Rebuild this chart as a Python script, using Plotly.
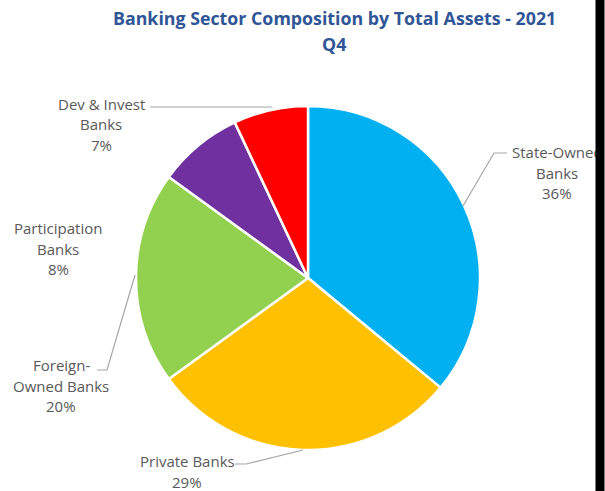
import plotly.graph_objects as go

# Sector shares of total banking assets, 2021 Q4 (percent)
sectors = ["State-Owned Banks", "Private Banks", "Foreign-Owned Banks",
           "Participation Banks", "Dev & Invest Banks"]
shares = [36, 29, 20, 8, 7]
slice_colors = ["#00B0F0", "#FFC000", "#92D050", "#7030A0", "#FF0000"]

# How each category name is broken across lines in its outside label
label_lines = {
    "State-Owned Banks": ["State-Owned", "Banks"],
    "Private Banks": ["Private Banks"],
    "Foreign-Owned Banks": ["Foreign-", "Owned Banks"],
    "Participation Banks": ["Participation", "Banks"],
    "Dev & Invest Banks": ["Dev & Invest", "Banks"],
}

W, H = 605, 491
CX, CY, R = 308, 278, 172  # pie centre and radius in pixels


def px(x, y):
    """Pixel position -> paper coordinates."""
    return x / W, 1 - y / H


# Label block placement (centre x, first line y) and leader-line paths (pixels)
label_pos = {
    "State-Owned Banks": (557, 152),
    "Private Banks": (187, 461),
    "Foreign-Owned Banks": (61, 365),
    "Participation Banks": (58, 228),
    "Dev & Invest Banks": (101, 104),
}
leaders = {
    "State-Owned Banks": [(507, 153), (494, 153), (463, 206)],
    "Private Banks": [(235, 464), (246, 464), (303, 450)],
    "Foreign-Owned Banks": [(97, 370), (107, 370), (135, 275)],
    "Dev & Invest Banks": [(150, 107), (272, 107)],
}

fig = go.Figure(go.Pie(
    labels=sectors,
    values=shares,
    sort=False,
    direction="clockwise",
    rotation=0,
    marker=dict(colors=slice_colors, line=dict(color="white", width=2.5)),
    textinfo="none",
    hoverinfo="skip",
    showlegend=False,
    domain=dict(x=[(CX - R) / W, (CX + R) / W],
                y=[1 - (CY + R) / H, 1 - (CY - R) / H]),
))

label_font = dict(family="Open Sans", size=15, color="#595959")
LINE = 20.5

annotations = []
for name, share in zip(sectors, shares):
    lines = label_lines[name] + [f"{share}%"]
    x0, y0 = label_pos[name]
    for i, line in enumerate(lines):
        ax, ay = px(x0, y0 + i * LINE)
        annotations.append(dict(
            text=line, x=ax, y=ay, xref="paper", yref="paper",
            xanchor="center", yanchor="middle", showarrow=False,
            font=label_font,
        ))

shapes = []
for name, pts in leaders.items():
    path = "M " + " L ".join(f"{px(x, y)[0]:.5f},{px(x, y)[1]:.5f}" for x, y in pts)
    shapes.append(dict(type="path", path=path, xref="paper", yref="paper",
                       line=dict(color="#A6A6A6", width=1.2)))

title_font = dict(family="Open Sans", size=17.8, color="#2F5597")
for txt, ty in [("<b>Banking Sector Composition by Total Assets - 2021</b>", 18),
                ("<b>Q4</b>", 44)]:
    tx, tyy = px(334, ty)
    annotations.append(dict(text=txt, x=tx, y=tyy, xref="paper", yref="paper",
                            xanchor="center", yanchor="middle", showarrow=False,
                            font=title_font))

# Dark frame edge along the right side
annotations.append(dict(text=" ", x=1, y=0.5, xref="paper", yref="paper",
                        xanchor="right", yanchor="middle", showarrow=False,
                        width=6, height=H, bgcolor="black", borderpad=1))

fig.update_layout(
    width=W, height=H,
    margin=dict(l=0, r=0, t=0, b=0),
    paper_bgcolor="white",
    plot_bgcolor="white",
    annotations=annotations,
    shapes=shapes,
)

fig.write_html("out.html")
